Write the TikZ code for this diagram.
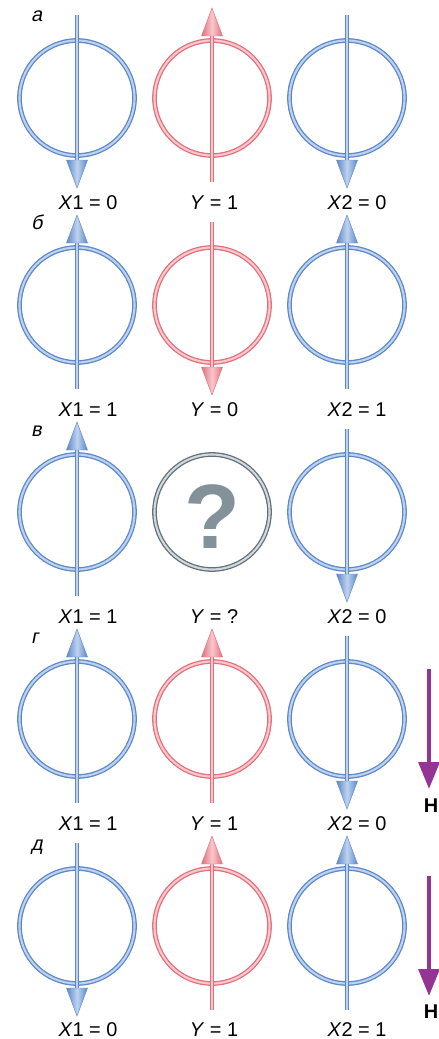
\documentclass[tikz,border=0pt]{standalone}
\usepackage{fontspec}
\setmainfont{Liberation Sans}
\newfontfamily\slantsans[FakeSlant=0.2]{Liberation Sans}
\usetikzlibrary{arrows.meta,calc}
\definecolor{bluedark}{RGB}{92,136,200}
\definecolor{bluelight}{RGB}{190,210,240}
\definecolor{reddark}{RGB}{226,112,124}
\definecolor{redlight}{RGB}{248,200,204}
\definecolor{greydark}{RGB}{98,112,122}
\definecolor{greylight}{RGB}{210,216,220}
\definecolor{greyglyph}{RGB}{130,145,154}
\definecolor{fieldpurple}{RGB}{150,52,148}
\tikzset{
  ring/.style={circle, draw=#1dark, double=#1light, double distance=1.8pt, line width=1.1pt, minimum size=3.45cm, inner sep=0pt, outer sep=0pt},
  shaft/.style={draw=#1dark, double=#1light, double distance=1.5pt, line width=1.1pt},
  tiphead/.style={left color=#1dark, right color=#1dark, middle color=#1light, draw=#1dark, line width=0.4pt},
  statelabel/.style={font=\fontsize{17}{20}\selectfont, anchor=base},
  rowletter/.style={font=\fontsize{17}{20}\selectfont\slantsans, anchor=base west},
  qmark/.style={font=\fontsize{78}{80}\selectfont\bfseries, text=greyglyph, inner sep=0pt},
  fieldarrow/.style={draw=fieldpurple, line width=3.6pt, -{Triangle[length=0.81cm,width=0.62cm]}},
  fieldlabel/.style={font=\fontsize{17}{20}\selectfont\bfseries, anchor=base}
}
% spin arrows through a ring: node, colour
\newcommand{\spindown}[2]{%
  \draw[shaft=#2] ($(#1)+(0,-83)$) -- ($(#1)+(0,64)$);
  \shadedraw[tiphead=#2] ($(#1)+(-10.5,62)$) -- ($(#1)+(10.5,62)$) -- ($(#1)+(0,90)$) -- cycle;
}
\newcommand{\spinup}[2]{%
  \draw[shaft=#2] ($(#1)+(0,84)$) -- ($(#1)+(0,-64)$);
  \shadedraw[tiphead=#2] ($(#1)+(-10.5,-62)$) -- ($(#1)+(10.5,-62)$) -- ($(#1)+(0,-90)$) -- cycle;
}
\begin{document}
\begin{tikzpicture}[x=0.03cm, y=-0.03cm]
\useasboundingbox (0,0) rectangle (438,1039);

% row a
\node[ring=blue] (x1a) at (77,98) {};
\node[ring=red]  (ya)  at (212,98) {};
\node[ring=blue] (x2a) at (347,98) {};
\spindown{x1a}{blue}
\spinup{ya}{red}
\spindown{x2a}{blue}
\node[rowletter] (la) at (27,22) {а};
\node[statelabel] (tx1a) at (88,209) {\textit{X}1 = 0};
\node[statelabel] (tya)  at (214,209) {\textit{Y} = 1};
\node[statelabel] (tx2a) at (357,209) {\textit{X}2 = 0};

% row b
\node[ring=blue] (x1b) at (77,305) {};
\node[ring=red]  (yb)  at (212,305) {};
\node[ring=blue] (x2b) at (347,305) {};
\spinup{x1b}{blue}
\spindown{yb}{red}
\spinup{x2b}{blue}
\node[rowletter] (lb) at (27,229) {б};
\node[statelabel] (tx1b) at (88,416) {\textit{X}1 = 1};
\node[statelabel] (tyb)  at (214,416) {\textit{Y} = 0};
\node[statelabel] (tx2b) at (357,416) {\textit{X}2 = 1};

% row c
\node[ring=blue] (x1c) at (77,512) {};
\node[ring=grey] (yc)  at (212,512) {};
\node[ring=blue] (x2c) at (347,512) {};
\spinup{x1c}{blue}
\node[qmark] (qc) at (212,517) {?};
\spindown{x2c}{blue}
\node[rowletter] (lc) at (27,436) {в};
\node[statelabel] (tx1c) at (88,623) {\textit{X}1 = 1};
\node[statelabel] (tyc)  at (214,623) {\textit{Y} = ?};
\node[statelabel] (tx2c) at (357,623) {\textit{X}2 = 0};

% row d
\node[ring=blue] (x1d) at (77,719) {};
\node[ring=red]  (yd)  at (212,719) {};
\node[ring=blue] (x2d) at (347,719) {};
\spinup{x1d}{blue}
\spinup{yd}{red}
\spindown{x2d}{blue}
\node[rowletter] (ld) at (27,643) {г};
\node[statelabel] (tx1d) at (88,830) {\textit{X}1 = 1};
\node[statelabel] (tyd)  at (214,830) {\textit{Y} = 1};
\node[statelabel] (tx2d) at (357,830) {\textit{X}2 = 0};
\coordinate (hd1) at (429,669);
\coordinate (hd2) at (429,789);
\draw[fieldarrow] (hd1) -- (hd2);
\node[fieldlabel] (hd) at (431,812) {H};

% row e
\node[ring=blue] (x1e) at (77,926) {};
\node[ring=red]  (ye)  at (212,926) {};
\node[ring=blue] (x2e) at (347,926) {};
\spindown{x1e}{blue}
\spinup{ye}{red}
\spinup{x2e}{blue}
\node[rowletter] (le) at (27,850) {д};
\node[statelabel] (tx1e) at (88,1036) {\textit{X}1 = 0};
\node[statelabel] (tye)  at (214,1036) {\textit{Y} = 1};
\node[statelabel] (tx2e) at (357,1036) {\textit{X}2 = 1};
\coordinate (he1) at (429,876);
\coordinate (he2) at (429,996);
\draw[fieldarrow] (he1) -- (he2);
\node[fieldlabel] (he) at (431,1018) {H};
\end{tikzpicture}
\end{document}
